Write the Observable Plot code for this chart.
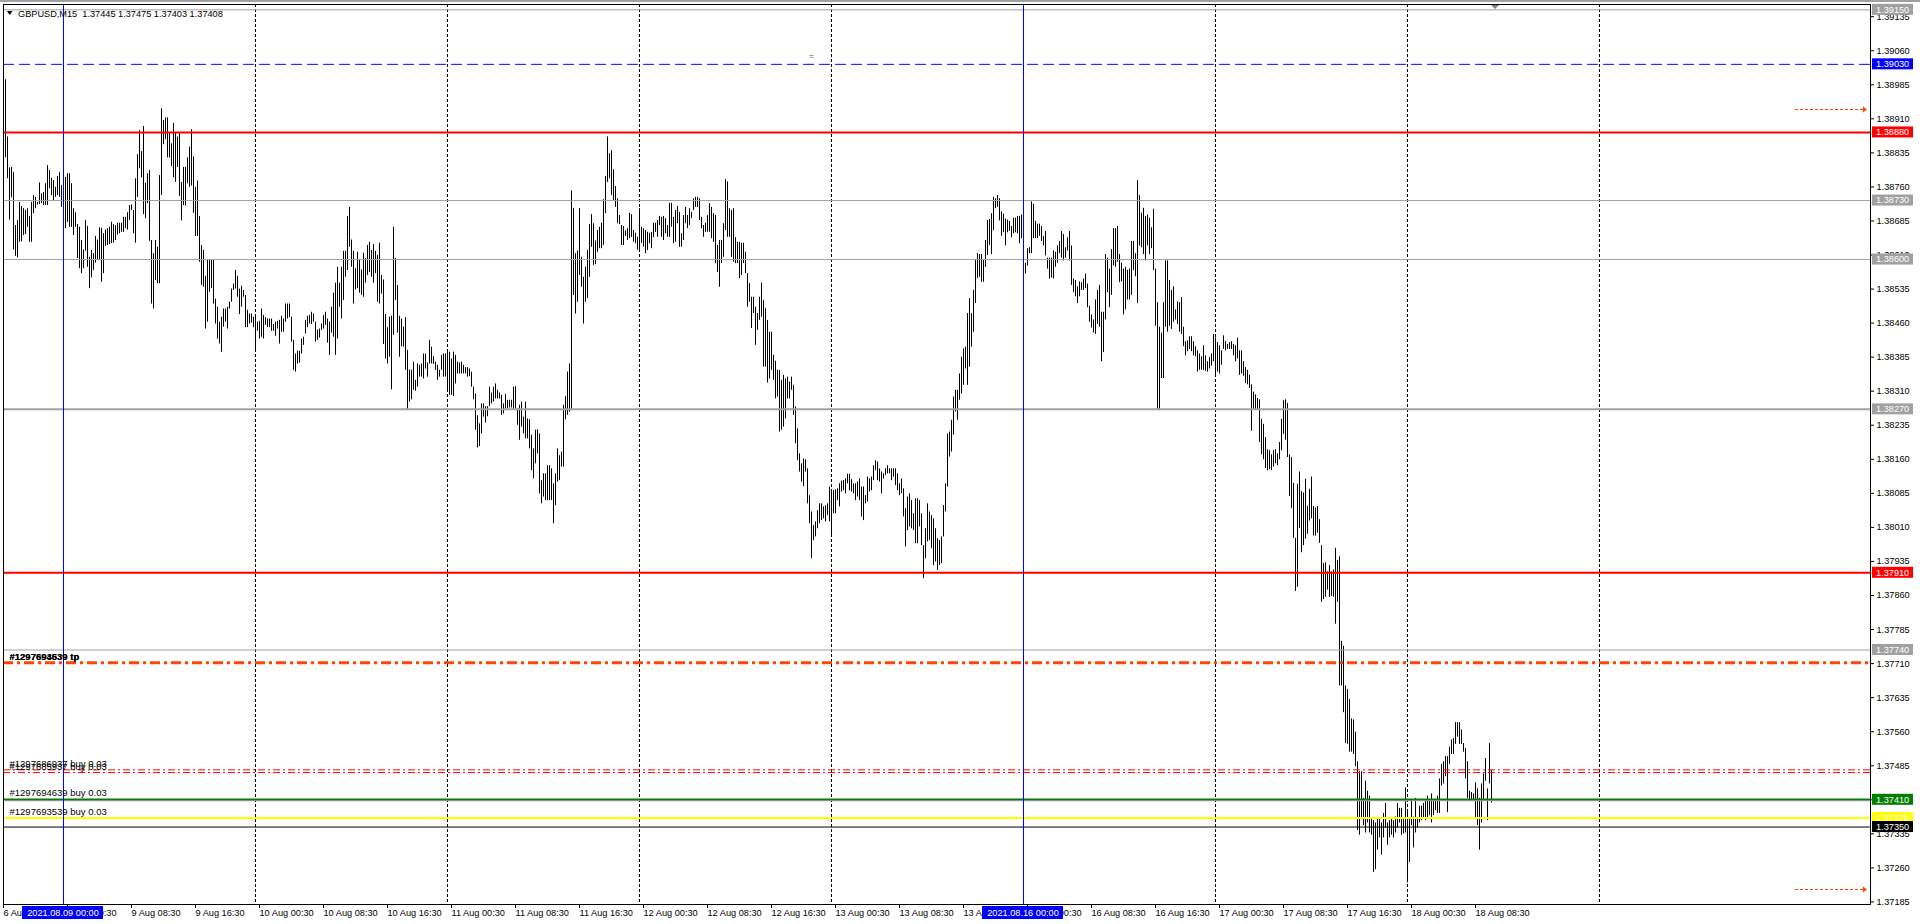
<!DOCTYPE html>
<html><head><meta charset="utf-8">
<script src="https://cdn.jsdelivr.net/npm/d3@7"></script>
<script src="https://cdn.jsdelivr.net/npm/@observablehq/plot@0.6"></script>
<style>
html,body{margin:0;padding:0;background:#fff;overflow:hidden}
#chart{position:relative;width:1920px;height:924px;background:#fff}
</style></head><body><div id="chart"></div>
<script>
// ---------- DATA ----------
const symbol = "GBPUSD,M15";
const lastOHLC = ["1.37445", "1.37475", "1.37403", "1.37408"];
// bar index 0 = 2021.08.09 00:00 (M15 bars, weekend skipped); first bar on chart is index -30
const firstBar = -30;
// highs / lows of every M15 bar, in points (0.00001) above 1.37000, oldest first
const highs = [
2062,1996,1870,1802,1803,1792,1675,1686,1726,1717,1712,1708,1712,1695,1726,1741,1737,1726,1769,1745,1748,1767,1807,1796,1779,1774,1759,1783,1792,1763,
1795,1781,1789,1789,1767,1712,1703,1677,1671,1642,1621,1686,1673,1605,1620,1613,1651,1643,1670,1669,
1657,1665,1668,1671,1682,1677,1675,1680,1680,1680,1693,1693,1703,1719,1720,1708,1778,1831,1884,1838,
1893,1768,1789,1796,1642,1613,1642,1627,1785,1932,1906,1912,1912,1878,1855,1900,1878,1870,1877,1770,
1803,1803,1824,1848,1886,1826,1759,1773,1695,1631,1620,1563,1598,1598,1598,1598,1513,1495,1462,1473,
1491,1491,1495,1506,1535,1546,1576,1563,1535,1541,1532,1521,1488,1480,1480,1473,1473,1462,1464,1491,
1477,1472,1469,1469,1469,1457,1462,1464,1466,1475,1469,1502,1502,1502,1473,1422,1392,1398,1398,1425,
1429,1466,1475,1477,1484,1480,1462,1445,1447,1458,1477,1484,1469,1462,1495,1526,1548,1583,1548,1583,
1618,1618,1695,1715,1643,1618,1580,1616,1598,1577,1614,1602,1631,1638,1620,1633,1618,1609,1636,1565,
1555,1479,1450,1473,1475,1671,1602,1543,1475,1469,1451,1472,1400,1357,1356,1374,1334,1370,1367,1370,
1392,1392,1372,1422,1407,1386,1374,1367,1356,1389,1392,1392,1400,1396,1381,1396,1389,1374,1372,1374,
1367,1362,1362,1359,1352,1319,1304,1256,1238,1282,1282,1276,1276,1319,1306,1319,1326,1312,1306,
1301,1282,1303,1290,1290,1290,1319,1320,1271,1279,1286,1253,1286,1249,1247,1213,1183,1224,1225,1216,
1113,1128,1128,1146,1146,1139,1106,1128,1183,1168,1176,1279,1298,1352,1370,1751,1712,1613,1619,1712,
1605,1561,1583,1620,1677,1699,1679,1641,1664,1671,1680,1732,1783,1870,1833,1840,1798,1761,1734,1697,
1675,1673,1663,1668,1702,1699,1664,1658,1649,1712,1671,1668,1664,1660,1658,1660,1680,1680,1686,1695,
1693,1695,1690,1675,1724,1724,1693,1708,1717,1704,1657,1697,1715,1697,1712,1704,1734,1737,1737,1734,
1693,1675,1680,1697,1723,1715,1701,1697,1631,1642,1642,1679,1776,1771,1712,1708,1712,1648,1638,1638,
1636,1636,1616,1569,1547,1517,1517,1495,1481,1517,1548,1510,1492,1466,1440,1440,1389,1376,1356,1356,
1334,1345,1337,1341,1330,1341,1323,1275,1227,1172,1150,1161,1159,1139,1080,1044,1014,1022,1047,1062,
1062,1055,1058,1062,1099,1088,1091,1093,1095,1106,1112,1113,1117,1127,1127,1115,1106,1106,1110,1117,
1099,1099,1080,1121,1117,1121,1146,1157,1154,1139,1132,1128,1139,1146,1139,1139,1139,1139,1128,1106,
1117,1095,1051,1077,1084,1069,1040,1073,1073,1069,1040,970,1007,1062,1044,1036,1029,1007,985,981,
989,1058,1106,1216,1220,1246,1297,1312,1312,1348,1385,1403,1407,1481,1514,1481,1532,1598,1613,1611,
1611,1598,1642,1686,1688,1701,1737,1734,1741,1734,
1705,1700,1689,1687,1684,1673,1691,1691,1695,1695,1698,1605,1592,1624,1626,1727,1722,1684,1678,1678,
1673,1651,1662,1603,1603,1603,1619,1616,1630,1640,1662,1655,1626,1648,1662,1630,1557,1554,1540,1551,
1549,1557,1568,1546,1497,1478,1467,1511,1532,1543,1484,1484,1611,1603,1579,1622,1668,1668,1673,1611,
1592,1579,1583,1576,1579,1640,1640,1613,1774,1741,1702,1713,1695,1698,1691,1670,1711,1579,1505,1451,
1438,1505,1597,1597,1554,1532,1540,1489,1507,1505,1516,1451,1419,1421,1430,1430,1419,1408,1399,1392,
1386,1410,1388,1375,1384,1392,1435,1427,1417,1410,1399,1432,1419,1413,1417,1419,1413,1410,1427,1399,
1399,1375,1362,1356,1345,1324,1308,1302,1294,1291,1248,1237,1208,1181,1179,1170,1179,1181,1172,1197,
1248,1289,1291,1283,1170,1164,1107,986,1105,1132,1089,1086,1116,1056,1094,1121,1056,1053,1056,1027,
970,930,932,912,926,912,916,964,937,945,759,748,661,653,631,588,586,559,494,472,
472,413,451,429,418,369,364,359,369,369,359,380,402,359,364,369,364,372,402,391,
391,369,436,386,369,407,372,413,369,396,396,402,407,418,407,423,407,407,418,456,
488,494,505,505,526,542,545,580,580,580,564,534,523,494,429,426,423,447,434,413,
445,467,501,434,534,475
];
const lows = [
1943,1824,1778,1687,1736,1621,1607,1604,1638,1639,1653,1655,1671,1638,1638,1701,1712,1720,1721,1723,1719,1719,1719,1756,1741,1728,1737,1741,1737,1715,
1730,1668,1682,1671,1671,1653,1671,1602,1580,1569,1580,1618,1583,1536,1560,1576,1592,1598,1598,1550,
1569,1629,1631,1633,1635,1636,1642,1654,1657,1660,1660,1668,1665,1686,1708,1657,1636,1737,1800,1780,
1699,1690,1723,1640,1502,1491,1554,1547,1547,1741,1853,1864,1824,1824,1805,1780,1770,1803,1739,1685,
1719,1718,1767,1759,1762,1702,1651,1651,1594,1543,1539,1447,1462,1528,1536,1502,1458,1425,1414,1396,
1451,1462,1447,1491,1506,1532,1535,1517,1479,1495,1517,1450,1450,1458,1460,1450,1400,1442,1425,1429,
1425,1455,1450,1450,1442,1442,1431,1447,1414,1440,1440,1462,1469,1472,1418,1356,1352,1370,1372,1392,
1411,1436,1450,1458,1457,1462,1418,1422,1427,1444,1447,1455,1416,1389,1438,1429,1389,1425,1495,1469,
1510,1561,1576,1627,1583,1502,1533,1536,1526,1521,1517,1548,1565,1572,1561,1548,1569,1506,1502,1524,
1413,1381,1370,1385,1313,1433,1510,1438,1385,1408,1407,1356,1268,1286,1291,1312,1310,1319,1341,1341,
1337,1359,1341,1370,1370,1369,1356,1334,1341,1356,1341,1341,1310,1301,1301,1298,1326,1348,1348,1348,
1348,1348,1341,1342,1319,1291,1224,1185,1188,1216,1253,1240,1254,1276,1282,1286,1293,1293,1293,
1257,1260,1271,1271,1273,1273,1268,1271,1235,1202,1231,1216,1205,1205,1183,1135,1117,1150,1172,1084,
1062,1077,1069,1069,1069,1069,1018,1058,1110,1113,1143,1143,1247,1257,1264,1268,1521,1480,1506,1565,
1539,1458,1506,1514,1561,1627,1587,1589,1616,1624,1624,1631,1701,1770,1778,1741,1730,1715,1679,1677,
1631,1631,1651,1642,1646,1649,1638,1635,1621,1616,1636,1627,1613,1620,1635,1624,1648,1660,1649,1675,
1649,1642,1657,1649,1649,1671,1635,1638,1679,1627,1627,1642,1679,1668,1675,1690,1708,1715,1715,1686,
1668,1649,1660,1660,1660,1646,1638,1591,1572,1539,1591,1605,1664,1649,1649,1605,1594,1591,1591,1558,
1565,1591,1569,1495,1506,1448,1481,1411,1444,1466,1473,1363,1363,1328,1337,1356,1334,1293,1297,1220,
1224,1231,1249,1293,1293,1312,1257,1194,1157,1132,1110,1100,1132,1062,1018,941,981,989,1007,1018,
1025,1029,1022,1036,1022,992,1040,1040,1069,1055,1088,1091,1084,1106,1091,1088,1084,1069,1077,1069,
1033,1025,1062,1066,1088,1091,1113,1135,1113,1110,1084,1117,1124,1128,1128,1113,1121,1102,1091,1080,
1084,1033,967,1003,1011,1007,1003,974,974,1011,970,897,941,978,981,963,926,934,915,926,
930,989,1044,1099,1165,1176,1213,1264,1246,1290,1304,1323,1359,1323,1363,1407,1440,1503,1558,1561,
1550,1550,1583,1609,1631,1611,1664,1712,1715,1685,
1651,1659,1630,1659,1662,1648,1657,1659,1657,1635,1646,1579,1568,1586,1613,1613,1646,1646,1646,1651,
1640,1630,1608,1579,1557,1559,1557,1583,1592,1613,1603,1597,1603,1619,1597,1543,1527,1518,1503,1518,
1532,1532,1536,1494,1462,1449,1438,1435,1457,1451,1375,1395,1467,1527,1494,1521,1586,1583,1594,1549,
1551,1478,1489,1511,1511,1521,1576,1562,1503,1630,1626,1611,1597,1630,1611,1624,1576,1453,1269,1267,
1338,1338,1451,1440,1453,1446,1462,1467,1457,1440,1435,1408,1388,1397,1402,1397,1388,1386,1352,1356,
1356,1356,1354,1352,1359,1365,1375,1341,1352,1348,1367,1402,1399,1402,1402,1402,1388,1375,1381,1345,
1348,1343,1327,1324,1316,1222,1269,1269,1269,1197,1170,1159,1140,1135,1137,1135,1143,1150,1146,1159,
1179,1215,1202,1164,1078,1051,986,869,878,1008,954,970,984,995,1024,1029,991,991,997,975,
845,851,856,872,856,858,856,797,845,661,661,602,534,532,515,515,510,483,342,332,
369,353,337,359,337,332,250,256,299,326,288,326,348,310,326,332,326,337,348,359,
332,335,337,227,272,353,304,337,348,359,364,369,364,369,375,359,375,386,380,380,
440,445,461,382,488,510,510,532,548,532,532,515,456,413,407,407,407,369,353,299,
359,407,451,364,445,403
];
// visible price range of the window
const priceMin = 1.371794, priceMax = 1.391618;
// right-axis tick labels
const priceTicks = [1.37185,1.37260,1.37335,1.37410,1.37485,1.37560,1.37635,1.37710,1.37785,1.37860,1.37935,
  1.38010,1.38085,1.38160,1.38235,1.38310,1.38385,1.38460,1.38535,1.38610,1.38685,1.38760,1.38835,1.38910,
  1.38985,1.39060,1.39135];
// bottom time labels (bar index, text)
const timeTickBars = [-30,2,34,66,98,130,162,194,226,258,290,322,354,386,418,450,482,514,546,578,610,642,674,706];
const timeTickTexts = ["6 Aug 2021","9 Aug 00:30","9 Aug 08:30","9 Aug 16:30","10 Aug 00:30","10 Aug 08:30",
  "10 Aug 16:30","11 Aug 00:30","11 Aug 08:30","11 Aug 16:30","12 Aug 00:30","12 Aug 08:30","12 Aug 16:30",
  "13 Aug 00:30","13 Aug 08:30","13 Aug 16:30","16 Aug 00:30","16 Aug 08:30","16 Aug 16:30","17 Aug 00:30",
  "17 Aug 08:30","17 Aug 16:30","18 Aug 00:30","18 Aug 08:30"];
// day separators (bar index of midnight)
const daySeparators = [96,192,288,384,576,672,768];
// vertical line objects
const vLineBars = [0, 480];
const vLineTexts = ["2021.08.09 00:00", "2021.08.16 00:00"];
// horizontal line objects
const levelPrices = [1.39150,1.39030,1.38880,1.38730,1.38600,1.38270,1.37910,1.37740,1.37410,1.37370,1.37350];
const levelKinds  = ["gray","blue","red","gray","gray","grayBold","red","gray","green","yellow","black"];
const bidPrice = 1.37408;
// order lines
const tpPrice = 1.37712;
const tpTexts = ["#1297694639 tp", "#1297693539 tp"];
const openPrices = [1.37476, 1.37470];
const openTexts = ["#1297686937 buy 0.03", "#1297685937 buy 0.03"];
const pendingPrices = [1.37410, 1.37370];
const pendingTexts = ["#1297694639 buy 0.03", "#1297693539 buy 0.03"];
// off-screen level arrows (price, from bar, to bar)
const arrowPrices = [1.38930, 1.37213];
const arrowBars = [866, 902];
const shiftBar = 716;
// small chart object near the top (bar, price)
const iconBar = 374, iconPrice = 1.39048;

// ---------- STYLES ----------
const FONT = "'Liberation Sans', Arial, sans-serif";
const FS = 9.2;
const kindStyle = {
  gray:{stroke:"#a0a0a0", w:1, box:"#a0a0a0"},
  grayBold:{stroke:"#a0a0a0", w:2, box:"#a0a0a0"},
  blue:{stroke:"#0000ff", w:1, dash:"11,5", box:"#0000ff"},
  red:{stroke:"#ff0000", w:2, box:"#ff0000"},
  green:{stroke:"#008000", w:2.5, box:"#008000"},
  yellow:{stroke:"#ffff00", w:2, box:"#ffff00"},
  black:{stroke:"#000000", w:1, box:"#000000"}
};

// ---------- BUILD ----------
const bars = highs.map((h, k) => ({i: firstBar + k, high: 1.37 + h / 1e5, low: 1.37 + lows[k] / 1e5}));
const levels = levelPrices.map((p, k) => ({price: p, kind: levelKinds[k]}));
const labelOf = new Map(timeTickBars.map((b, k) => [b, timeTickTexts[k]]));

const levelMarks = Object.keys(kindStyle).map(kind => {
  const s = kindStyle[kind];
  return Plot.ruleY(levels.filter(d => d.kind === kind), {y: "price", stroke: s.stroke, strokeWidth: s.w, strokeDasharray: s.dash});
});

const chart = Plot.plot({
  width: 1920, height: 924,
  marginLeft: 3, marginRight: 50, marginTop: 4, marginBottom: 20,
  x: {domain: [firstBar, 903.5], axis: null, label: null},
  y: {domain: [priceMin, priceMax], axis: null, label: null},
  style: {fontFamily: FONT, fontSize: FS + "px", background: "#fff", color: "#000", overflow: "visible"},
  marks: [
    Plot.ruleX(daySeparators, {stroke: "#000", strokeWidth: 1, strokeDasharray: "3,2"}),
    Plot.ruleX(bars, {x: "i", y1: "low", y2: "high", stroke: "#000", strokeWidth: 1}),
    ...levelMarks,
    Plot.ruleY([bidPrice], {stroke: "#a0a0a0", strokeWidth: 1}),
    Plot.ruleY([tpPrice], {stroke: "#ff4500", strokeWidth: 3, strokeDasharray: "10,4,3,4"}),
    Plot.ruleY(openPrices, {stroke: "#ff0000", strokeWidth: 1, strokeDasharray: "7,3,2,3"}),
    Plot.ruleX(vLineBars, {stroke: "#0000ff", strokeWidth: 1}),
    Plot.text([{x: iconBar, y: iconPrice}], {x: "x", y: "y", text: () => "≈", fill: "#666", fontSize: 8}),
    Plot.text(tpTexts.map(t => ({t, p: tpPrice})), {text: "t", y: "p", frameAnchor: "left", dx: 6, dy: -5.5, textAnchor: "start", fill: "#000", fontSize: FS + 0.3, fontWeight: "bold"}),
    Plot.text(openTexts.map((t, k) => ({t, p: openPrices[k]})), {text: "t", y: "p", frameAnchor: "left", dx: 6, dy: -5.5, textAnchor: "start", fill: "#000", fontSize: FS + 0.3}),
    Plot.text(pendingTexts.map((t, k) => ({t, p: pendingPrices[k]})), {text: "t", y: "p", frameAnchor: "left", dx: 6, dy: -6.5, textAnchor: "start", fill: "#000", fontSize: FS + 0.3}),
    Plot.axisY(priceTicks, {anchor: "right", label: null, tickSize: 3, tickPadding: 3, tickFormat: d => d.toFixed(5), fontSize: FS, fill: "#000", stroke: "#000"}),
    Plot.axisX(timeTickBars, {anchor: "bottom", label: null, tickSize: 4, tickPadding: 1, tickFormat: d => labelOf.get(d), textAnchor: "start", fontSize: FS, fill: "#000", stroke: "#000"}),
    Plot.frame({stroke: "#000", strokeWidth: 1})
  ]
});
document.getElementById("chart").appendChild(chart);

const svg = d3.select(chart);
const X = v => chart.scale("x").apply(v);
const Y = v => chart.scale("y").apply(v);
const right = 1920 - 50;
const layer = svg.append("g").attr("text-anchor", "start").attr("font-family", FONT).attr("font-size", FS);

// off-screen level arrows
arrowPrices.forEach(p => {
  const y = Math.round(Y(p)) + 0.5;
  layer.append("line").attr("x1", X(arrowBars[0])).attr("x2", X(arrowBars[1]) - 3).attr("y1", y).attr("y2", y)
    .attr("stroke", "#ff4500").attr("stroke-width", 1).attr("stroke-dasharray", "3,2");
  const xe = X(arrowBars[1]);
  layer.append("path").attr("d", `M${xe - 4},${y - 3}L${xe},${y}L${xe - 4},${y + 3}Z`).attr("fill", "#ff4500");
});

// chart shift marker
{
  const xs = X(shiftBar);
  layer.append("path").attr("d", `M${xs - 4},5L${xs + 4},5L${xs},9Z`).attr("fill", "#808080");
}

// price labels on the right axis
levels.forEach(d => {
  const s = kindStyle[d.kind];
  const y = Y(d.price);
  layer.append("rect").attr("x", right + 2).attr("y", y - 5.5).attr("width", 41).attr("height", 11).attr("fill", s.box);
  layer.append("text").attr("x", right + 6).attr("y", y + 3.4).attr("fill", "#fff").attr("text-anchor", "start")
    .text(d.price.toFixed(5));
});

// vertical line time boxes
vLineBars.forEach((b, k) => {
  const x = X(b);
  layer.append("rect").attr("x", x - 41).attr("y", 906).attr("width", 81).attr("height", 13).attr("fill", "#0000ff");
  layer.append("text").attr("x", x).attr("y", 915.8).attr("fill", "#fff").attr("text-anchor", "middle")
    .text(vLineTexts[k]);
});

// header
layer.append("path").attr("d", "M7,11L12.5,11L9.75,15Z").attr("fill", "#000");
layer.append("text").attr("x", 18).attr("y", 16.5).attr("fill", "#000").attr("text-anchor", "start")
  .style("white-space", "pre").text(symbol + "  " + lastOHLC.join(" "));
// window top edge
layer.append("rect").attr("x", 0).attr("y", 0).attr("width", 1920).attr("height", 2).attr("fill", "#a0a0a0");
</script></body></html>
